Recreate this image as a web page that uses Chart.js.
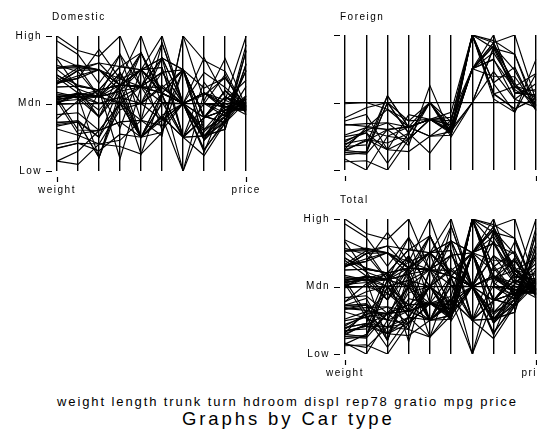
<!DOCTYPE html>
<html>
<head>
<meta charset="utf-8">
<script src="https://cdn.jsdelivr.net/npm/chart.js@4.4.1/dist/chart.umd.min.js"></script>
<style>
  html, body { margin: 0; padding: 0; background: #fff; }
  #wrap { position: relative; width: 537px; height: 431px; overflow: hidden; background: #fff;
          font-family: "Liberation Sans", Arial, Helvetica, sans-serif; color: #000; }
  #wrap canvas { position: absolute; }
  .txt { position: absolute; white-space: nowrap; }
</style>
</head>
<body>
<div id="wrap">
  <canvas id="cDom" width="270" height="200" style="left:0;top:0"></canvas>
  <canvas id="cFor" width="290" height="200" style="left:270px;top:0"></canvas>
  <canvas id="cTot" width="290" height="200" style="left:270px;top:184px"></canvas>
  <div class="txt" style="left:52px;top:11.5px;font-size:10px;line-height:10px;letter-spacing:1.5px">Domestic</div>
  <div class="txt" style="left:340px;top:11.5px;font-size:10px;line-height:10px;letter-spacing:1.5px">Foreign</div>
  <div class="txt" style="left:340px;top:194.5px;font-size:10px;line-height:10px;letter-spacing:1.5px">Total</div>
  <div class="txt" style="left:57px;top:394.5px;font-size:13px;line-height:13px;letter-spacing:1.9px">weight length trunk turn hdroom displ rep78 gratio mpg price</div>
  <div class="txt" style="left:182px;top:410.3px;font-size:18.5px;line-height:18.5px;letter-spacing:2.9px">Graphs by Car type</div>
</div>
<script>
// auto data, 52 domestic then 22 foreign cars (null = missing)
const varNames = ['weight', 'length', 'trunk', 'turn', 'hdroom', 'displ', 'rep78', 'gratio', 'mpg', 'price'];

const foreign = [0,0,0,0,0,0,0,0,0,0, 0,0,0,0,0,0,0,0,0,0, 0,0,0,0,0,0,0,0,0,0,
                 0,0,0,0,0,0,0,0,0,0, 0,0,0,0,0,0,0,0,0,0, 0,0,
                 1,1,1,1,1,1,1,1,1,1, 1,1,1,1,1,1,1,1,1,1, 1,1];

const weight = [2930,3350,2640,3250,4080,3670,2230,3280,3880,3400, 4330,3900,4290,2110,3690,3180,3220,2750,3430,2120,
                3600,3600,3740,1800,2650,4840,4720,3830,2580,4060, 3720,3370,4130,2830,4060,3310,3300,3690,3370,2730,
                4030,3260,1800,2200,2520,3330,3700,3470,3210,3200, 3420,2690,
                2830,2070,2650,2370,2020,2280,2750,2130,2240,1760, 1980,3420,1830,2050,2410,2200,2670,2160,2040,1930,
                1990,3170];

const length = [186,173,168,196,222,218,170,200,207,200, 221,204,204,163,212,193,200,179,197,163,
                206,206,220,147,179,233,230,201,169,221, 212,198,217,195,220,198,198,218,200,180,
                206,170,157,165,182,201,214,198,201,199, 203,179,
                189,174,177,170,165,170,184,161,172,149, 154,192,142,164,174,165,175,172,155,155,
                156,193];

const trunk = [11,11,12,16,20,21,10,16,17,13, 20,16,13,9,20,17,16,7,13,8,
               17,17,21,9,10,22,18,15,9,16, 23,15,16,17,20,16,16,20,14,10,
               17,11,11,17,8,16,20,7,16,17, 13,7,
               15,11,12,6,8,8,8,16,10,5, 11,14,10,11,14,9,11,12,15,15,
               16,14];

const turn = [40,40,35,40,43,43,34,42,43,42, 44,43,45,34,43,31,40,40,43,35,
              46,46,46,33,43,51,48,41,39,48, 44,41,45,43,43,42,42,42,43,40,
              43,37,37,36,38,44,43,42,45,40, 43,41,
              37,36,34,35,32,34,38,36,36,34, 33,38,34,36,36,35,36,36,35,35,
              36,37];

const hdroom = [2.5,3.0,3.0,4.5,4.0,4.0,3.0,2.0,3.5,3.5, 4.0,3.5,3.0,2.5,4.0,3.5,2.0,2.0,3.5,2.0,
                4.0,4.0,4.5,1.5,2.0,3.5,2.5,3.5,3.0,3.5, 3.5,3.0,3.0,3.5,4.0,2.0,4.5,4.0,4.5,2.0,
                3.5,2.0,2.5,4.0,1.5,5.0,4.0,1.5,2.0,3.5, 3.5,2.0,
                3.0,2.5,2.5,1.5,2.0,2.5,2.5,2.5,3.0,2.5, 3.5,3.5,3.0,2.5,2.5,3.0,2.0,2.5,3.0,3.0,
                2.0,2.5];

const displ = [121,258,121,196,350,231,304,196,231,231, 425,350,350,231,250,200,200,151,250,98,
               318,318,225,98,140,400,400,302,140,302, 302,250,302,140,350,231,231,231,231,151,
               350,156,86,105,119,225,231,231,231,231, 231,151,
               131,97,121,119,85,119,146,105,107,91, 86,163,79,97,134,97,134,97,90,89,
               97,163];

const rep78 = [3,3,null,3,4,3,null,3,3,3, 3,2,3,3,4,3,2,2,3,5,
               2,2,2,4,3,3,3,3,4,4, 3,3,4,3,4,3,3,4,3,1,
               3,3,5,3,null,2,4,1,3,3, null,2,
               5,3,4,4,5,4,4,3,5,4, 4,null,3,5,5,5,5,4,5,4,
               4,5];

const gratio = [3.58,2.53,3.08,2.93,2.41,2.73,2.87,2.93,2.93,3.08, 2.28,2.19,2.24,2.93,2.56,2.73,2.73,2.73,2.56,3.54,
                2.47,2.47,2.94,3.15,3.08,2.47,2.47,2.47,2.73,2.75, 2.26,2.43,2.75,3.08,2.41,2.93,2.93,2.73,3.08,2.73,
                2.41,3.05,2.97,3.37,3.54,3.23,2.73,3.08,2.93,2.93, 3.08,2.73,
                3.20,3.70,3.64,3.89,3.70,3.54,3.55,3.37,3.05,3.30, 3.73,3.58,3.72,3.81,3.06,3.21,3.05,3.74,3.78,3.78,
                3.78,2.98];

const mpg = [22,17,22,20,15,18,26,20,16,19, 14,14,21,29,16,22,22,24,19,30,
             18,16,17,28,21,12,12,14,22,14, 15,18,14,20,21,19,19,18,19,24,
             16,28,34,25,26,18,18,18,19,19, 19,24,
             17,23,25,23,35,24,21,21,25,28, 30,14,26,35,18,31,18,23,41,25,
             25,17];

const price = [4099,4749,3799,4816,7827,5788,4453,5189,10372,4082, 11385,14500,15906,3299,5705,4504,5104,3667,3955,3984,
               4010,5886,6342,4389,4187,11497,13594,13466,3829,5379, 6165,4516,6303,3291,8814,5172,4733,4890,4181,4195,
               10371,4647,4425,4482,6486,4060,5798,4934,5222,4723, 4424,4172,
               9690,6295,9735,6229,4589,5079,8129,4296,5799,4499, 3995,12990,3895,3798,5899,3748,5719,7140,5397,4697,
               6850,11995];

const yTickNames = { '-1': 'Low', '0': 'Mdn', '1': 'High' };
const FONT = '"Liberation Sans", Arial, Helvetica, sans-serif';

// cars with every variable present
const columns = [weight, length, trunk, turn, hdroom, displ, rep78, gratio, mpg, price];
const complete = weight.map((_, i) => columns.every(c => c[i] !== null));

function median(a) {
  const s = [...a].sort((p, q) => p - q);
  const n = s.length;
  return n % 2 ? s[(n - 1) / 2] : (s[n / 2 - 1] + s[n / 2]) / 2;
}

// each variable: median -> Mdn, farthest value -> High/Low
const scaled = columns.map(col => {
  const vals = col.filter((v, i) => complete[i]);
  const m = median(vals);
  const d = Math.max(...vals.map(v => Math.abs(v - m)));
  return col.map(v => v === null ? null : (v - m) / d);
});

function rowsFor(group) {
  const out = [];
  for (let i = 0; i < weight.length; i++) {
    if (!complete[i]) continue;
    if (group === 'Domestic' && foreign[i] !== 0) continue;
    if (group === 'Foreign' && foreign[i] !== 1) continue;
    out.push(scaled.map(c => c[i]));
  }
  return out;
}

const stataTicks = {
  id: 'stataTicks',
  beforeDraw(chart) {
    chart.ctx.letterSpacing = '1.5px';
  },
  afterDraw(chart) {
    const { ctx, chartArea: a, scales: { x, y } } = chart;
    ctx.save();
    ctx.strokeStyle = '#000';
    ctx.lineWidth = 1.2;
    ctx.beginPath();
    [-1, 0, 1].forEach(v => {
      const py = Math.round(y.getPixelForValue(v)) + 0.5;
      ctx.moveTo(a.left - 11, py);
      ctx.lineTo(a.left - 5, py);
    });
    [0, varNames.length - 1].forEach(i => {
      const px = Math.round(x.getPixelForValue(i)) + 0.5;
      ctx.moveTo(px, a.bottom + 6);
      ctx.lineTo(px, a.bottom + 11);
    });
    ctx.stroke();
    ctx.restore();
  }
};

function makePanel(id, group, opt) {
  const rows = rowsFor(group);
  return new Chart(document.getElementById(id), {
    type: 'line',
    data: {
      labels: varNames,
      datasets: rows.map(r => ({
        data: r, borderColor: '#000', borderWidth: 1.15, pointRadius: 0, tension: 0, fill: false
      }))
    },
    options: {
      responsive: false,
      animation: false,
      events: [],
      layout: { padding: { left: 0, right: opt.right, top: opt.top, bottom: 0 } },
      plugins: { legend: { display: false }, tooltip: { enabled: false }, title: { display: false } },
      scales: {
        x: {
          type: 'category',
          offset: false,
          grid: { color: '#000', lineWidth: 1.4, drawTicks: false },
          border: { display: false },
          ticks: {
            autoSkip: false, maxRotation: 0, padding: 13, color: '#000',
            font: { family: FONT, size: 10 },
            callback: (v, i) => opt.xLabels && (i === 0 || i === varNames.length - 1) ? varNames[i] : ''
          },
          afterFit: s => { s.height = opt.bottomH; }
        },
        y: {
          min: -1, max: 1,
          grid: {
            color: c => (c.tick && c.tick.value === 0) ? '#000' : 'rgba(0,0,0,0)',
            lineWidth: 1.2, drawTicks: false
          },
          border: { display: false },
          ticks: {
            stepSize: 1, padding: 15, color: '#000',
            font: { family: FONT, size: 10 },
            callback: v => opt.yLabels ? yTickNames[v] : ''
          },
          afterFit: s => { s.width = opt.left; }
        }
      }
    },
    plugins: [stataTicks]
  });
}

makePanel('cDom', 'Domestic', { left: 57, right: 21, top: 36, bottomH: 29, xLabels: true, yLabels: true });
makePanel('cFor', 'Foreign', { left: 75, right: 24, top: 35, bottomH: 30, xLabels: false, yLabels: false });
makePanel('cTot', 'Total', { left: 75, right: 24, top: 35, bottomH: 30, xLabels: true, yLabels: true });
</script>
</body>
</html>
